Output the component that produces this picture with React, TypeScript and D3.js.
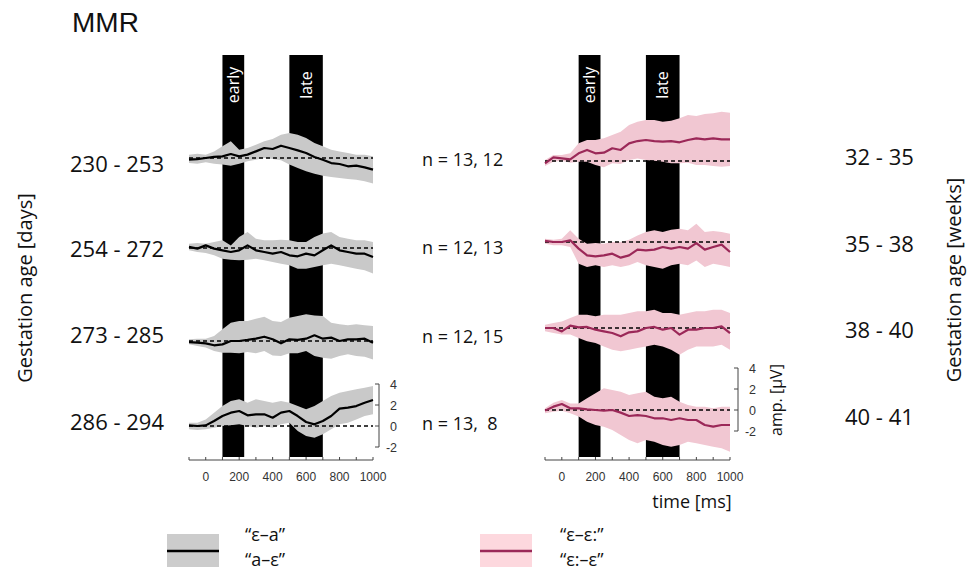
import * as d3 from "d3";

const W = 968;
const H = 575;

// sample grid of the ERP curves (ms)
const times = [-100, -50, 0, 50, 100, 150, 200, 250, 300, 350, 400, 450, 500, 550, 600, 650, 700, 750, 800, 850, 900, 950, 1000];

const daysLabels = ["230 - 253", "254 - 272", "273 - 285", "286 - 294"];
const weeksLabels = ["32 - 35", "35 - 38", "38 - 40", "40 - 41"];
const nLabels = ["n = 13, 12", "n = 12, 13", "n = 12, 15", "n = 13,  8"];
const xTickLabels = [0, 200, 400, 600, 800, 1000];
const xMinorTicks = [-100, 0, 100, 200, 300, 400, 500, 600, 700, 800, 900, 1000];
const ampTicks = [4, 2, 0, -2];
const windows = [
  { label: "early", from: 100, to: 230 },
  { label: "late", from: 500, to: 700 },
];

// "ε-a" / "a-ε" (grey), µV
const greyMean = [
  [-0.16, -0.1, 0, 0.1, 0.16, 0.38, 0.16, 0.32, 0.63, 0.95, 0.86, 1.17, 0.95, 0.73, 0.48, 0.1, -0.16, -0.48, -0.57, -0.79, -0.73, -0.89, -1.11],
  [0.1, -0.06, 0.25, -0.06, -0.22, -0.38, -0.22, 0.25, -0.22, -0.38, -0.54, -0.38, -0.7, -0.79, -0.54, -0.7, -0.22, 0.25, -0.22, -0.38, -0.54, -0.54, -0.86],
  [-0.1, -0.16, -0.22, -0.41, -0.32, 0, 0, 0.1, 0.22, 0.41, 0.16, -0.22, 0.16, 0.1, 0.22, 0.54, 0.22, 0.32, 0, 0.16, 0.16, 0.22, -0.16],
  [0.06, 0, 0.06, 0.48, 0.95, 1.27, 1.43, 1.02, 1.11, 1.11, 0.79, 1.27, 1.43, 0.95, 0.38, 0.16, 0.48, 0.95, 1.65, 1.75, 1.9, 2.22, 2.48],
];
const greyHi = [
  [0.32, 0.41, 0.32, 0.63, 1.11, 1.59, 0.79, 0.95, 1.27, 1.59, 1.81, 2.22, 2.38, 2.22, 1.9, 1.43, 1.11, 0.79, 0.63, 0.48, 0.32, 0.32, 0.16],
  [0.41, 0.48, 0.41, 0.57, 0.73, 0.25, 1.05, 1.52, 0.89, 0.73, 0.73, 0.79, 0.73, 0.57, 0.57, 1.05, 1.37, 1.52, 1.05, 0.89, 0.73, 0.73, 0.57],
  [0.16, 0.22, 0.22, 0.48, 1.11, 1.75, 1.9, 1.9, 2.13, 2.32, 1.9, 1.81, 2.22, 2.38, 2.54, 2.44, 2.38, 1.75, 1.59, 1.49, 1.59, 1.49, 1.43],
  [0.32, 0.32, 0.63, 1.27, 1.9, 2.38, 2.54, 2.22, 2.54, 2.38, 2.22, 2.38, 2.22, 1.9, 1.59, 1.9, 2.38, 2.86, 3.17, 3.33, 3.49, 3.65, 3.81],
];
const greyLo = [
  [-0.48, -0.54, -0.41, -0.54, -0.63, -0.73, -0.54, -0.32, -0.16, 0, -0.1, -0.22, -0.63, -0.95, -1.27, -1.49, -1.68, -1.81, -1.9, -2.0, -2.06, -2.22, -2.44],
  [-0.22, -0.38, -0.48, -0.7, -1.02, -1.11, -1.17, -1.11, -1.02, -1.17, -1.33, -1.49, -1.65, -1.97, -1.97, -1.81, -1.65, -1.49, -1.65, -1.81, -1.97, -2.13, -2.44],
  [-0.32, -0.48, -0.63, -0.95, -1.11, -1.11, -1.17, -1.05, -1.17, -0.95, -1.37, -1.43, -1.17, -1.17, -0.95, -1.43, -1.59, -1.68, -1.43, -1.27, -1.43, -1.49, -1.75],
  [-0.32, -0.38, -0.32, -0.16, 0, 0.06, 0.16, 0, -0.16, 0, -0.16, 0.16, 0.32, -0.48, -0.95, -1.11, -0.79, -0.32, 0.16, 0.32, 0.63, 0.95, 1.11],
];

// "ε-ε:" / "ε:-ε" (pink), µV
const pinkMean = [
  [-0.22, 0.35, 0.25, 0.16, 0.73, 1.05, 0.73, 0.79, 1.21, 1.05, 1.68, 1.9, 2.0, 1.9, 1.84, 1.9, 1.78, 2.0, 2.16, 2.06, 2.16, 2.06, 2.06],
  [0.1, 0, 0, 0.16, -0.63, -1.27, -1.37, -1.27, -1.11, -1.49, -1.27, -0.73, -0.79, -0.73, -0.48, -0.63, -0.48, -0.63, -0.1, -0.73, -0.48, -0.25, -0.95],
  [0, 0, -0.32, 0.22, 0.06, 0.1, -0.16, -0.32, -0.48, -0.79, -0.41, -0.32, 0, 0.1, -0.16, 0, -0.63, -0.16, -0.16, 0, 0, 0.16, -0.48],
  [-0.06, 0.32, 0.57, 0.16, 0.16, 0.06, 0, -0.06, 0, -0.25, -0.57, -0.48, -0.57, -0.79, -0.79, -0.95, -0.79, -0.95, -0.95, -1.43, -1.59, -1.43, -1.43],
];
const pinkHi = [
  [0.1, 0.57, 0.57, 0.73, 1.68, 2.0, 2.0, 2.16, 2.48, 2.79, 3.43, 3.75, 3.9, 3.9, 3.75, 3.84, 4.06, 4.38, 4.29, 4.48, 4.54, 4.7, 4.6],
  [0.32, 0.22, 0.32, 1.11, 0.32, -0.16, -0.1, -0.16, 0, 0, 0.22, 0.63, 0.95, 1.11, 0.95, 1.17, 1.27, 1.11, 1.75, 0.95, 1.05, 0.95, 0.79],
  [0.32, 0.48, 0.63, 0.95, 1.27, 1.27, 1.11, 1.27, 1.27, 1.27, 1.43, 1.59, 1.59, 1.75, 1.43, 1.43, 1.27, 1.43, 1.59, 1.59, 1.75, 1.75, 1.43],
  [0.16, 0.7, 0.95, 0.63, 0.63, 1.11, 1.59, 2.06, 1.9, 1.75, 1.43, 1.59, 1.75, 1.27, 1.11, 1.27, 0.79, 0.48, 0.32, 0.32, 0.16, 0.32, 0.32],
];
const pinkLo = [
  [-0.48, -0.06, 0.03, -0.16, -0.06, -0.06, -0.38, -0.6, -0.22, -0.29, 0.1, 0.25, 0.1, 0.03, -0.06, -0.22, -0.22, -0.16, -0.38, -0.38, -0.48, -0.54, -0.48],
  [-0.16, -0.32, -0.32, -0.48, -2.06, -2.38, -2.22, -2.38, -2.22, -2.38, -2.22, -1.9, -2.22, -2.38, -2.54, -2.22, -2.06, -2.22, -1.75, -2.38, -2.06, -2.22, -2.38],
  [-0.32, -0.48, -0.63, -0.63, -0.95, -1.27, -1.43, -1.75, -2.06, -2.22, -2.06, -1.9, -1.75, -1.59, -1.75, -2.06, -2.54, -2.06, -1.75, -1.75, -1.75, -1.59, -2.06],
  [-0.32, -0.16, -0.06, -0.32, -0.63, -1.11, -1.43, -1.59, -1.9, -2.38, -2.86, -3.17, -2.86, -3.02, -3.33, -3.49, -3.33, -3.02, -3.17, -3.33, -3.49, -3.65, -3.97],
];

const sansLabel = "'Open Sans', 'Noto Sans', sans-serif";
const sansTick = "'Liberation Sans', Arial, sans-serif";

const GREY_BAND = "#c9c9c9";
const PINK_BAND = "#f1c7d2";
const PINK_LINE = "#9b2858";

type PanelProps = {
  x0: number;
  x1: number;
  baselines: number[];
  mean: number[][];
  lo: number[][];
  hi: number[][];
  band: string;
  line: string;
  bracketX: number;
};

function Panel({ x0, x1, baselines, mean, lo, hi, band, line, bracketX }: PanelProps) {
  const x = d3.scaleLinear().domain([-100, 1000]).range([x0, x1]);
  const barTop = 55;
  const barBottom = 457;
  const axisY = 460;
  const last = baselines[baselines.length - 1];
  const yLast = d3.scaleLinear().domain([-2, 4]).range([last + 21, last - 42]);

  return (
    <g>
      {windows.map((w) => (
        <g key={w.label}>
          <rect x={x(w.from)} y={barTop} width={x(w.to) - x(w.from)} height={barBottom - barTop} fill="#000" />
          <text
            transform={`translate(${(x(w.from) + x(w.to)) / 2 + 5.5},85) rotate(-90)`}
            textAnchor="middle"
            fill="#fff"
            fontFamily={sansLabel}
            fontSize={16}
          >
            {w.label}
          </text>
        </g>
      ))}

      {baselines.map((b, r) => {
        const y = d3.scaleLinear().domain([-2, 4]).range([b + 21, b - 42]);
        const area = d3
          .area<number>()
          .x((_, i) => x(times[i]))
          .y0((_, i) => y(lo[r][i]))
          .y1((d) => y(d));
        const ln = d3
          .line<number>()
          .x((_, i) => x(times[i]))
          .y((d) => y(d));
        return (
          <g key={r}>
            <path d={area(hi[r]) || ""} fill={band} />
            <line x1={x(-100)} x2={x(1000)} y1={y(0)} y2={y(0)} stroke="#000" strokeWidth={1.3} strokeDasharray="4 3" />
            <path d={ln(mean[r]) || ""} fill="none" stroke={line} strokeWidth={2.2} strokeLinejoin="round" />
          </g>
        );
      })}

      {/* time axis */}
      <line x1={x(-100)} x2={x(1000)} y1={axisY} y2={axisY} stroke="#444" strokeWidth={1} />
      {xMinorTicks.map((t) => (
        <line key={t} x1={x(t)} x2={x(t)} y1={axisY} y2={axisY - 3} stroke="#444" strokeWidth={1} />
      ))}
      {xTickLabels.map((t) => (
        <text key={t} x={x(t)} y={481} textAnchor="middle" fontFamily={sansTick} fontSize={12} fill="#333">
          {t}
        </text>
      ))}

      {/* amplitude bracket */}
      <line x1={bracketX} x2={bracketX} y1={yLast(4)} y2={yLast(-2)} stroke="#444" strokeWidth={1} />
      {ampTicks.map((v) => (
        <g key={v}>
          <line x1={bracketX - 4} x2={bracketX} y1={yLast(v)} y2={yLast(v)} stroke="#444" strokeWidth={1} />
          <text x={bracketX + 18} y={yLast(v) + 4.5} textAnchor="end" fontFamily={sansTick} fontSize={12.5} fill="#333">
            {v}
          </text>
        </g>
      ))}
    </g>
  );
}

export default function App() {
  const leftBase = [158, 248, 341, 426];
  const rightBase = [161, 242, 328, 410];
  const daysY = [172, 257, 343, 430];
  const weeksY = [165, 252, 338, 425];
  const nY = [166, 254, 343, 430];

  return (
    <svg width={W} height={H} style={{ position: "absolute", left: 0, top: 0, background: "#fff" }}>
      <text x={72} y={32} fontFamily={sansTick} fontSize={28} fill="#111">
        MMR
      </text>

      <text transform="translate(32,288) rotate(-90)" textAnchor="middle" fontFamily={sansLabel} fontSize={20} fill="#111">
        Gestation age [days]
      </text>
      <text transform="translate(961,280) rotate(-90)" textAnchor="middle" fontFamily={sansLabel} fontSize={20} fill="#111">
        Gestation age [weeks]
      </text>

      {daysLabels.map((s, i) => (
        <text key={s} x={70} y={daysY[i]} fontFamily={sansLabel} fontSize={22} fill="#111">
          {s}
        </text>
      ))}
      {weeksLabels.map((s, i) => (
        <text key={s} x={845} y={weeksY[i]} fontFamily={sansLabel} fontSize={22} fill="#111">
          {s}
        </text>
      ))}
      {nLabels.map((s, i) => (
        <text key={i} x={422} y={nY[i]} fontFamily={sansLabel} fontSize={18} fill="#111" style={{ whiteSpace: "pre" }}>
          {s}
        </text>
      ))}

      <Panel x0={189} x1={373} baselines={leftBase} mean={greyMean} lo={greyLo} hi={greyHi} band={GREY_BAND} line="#000" bracketX={379} />
      <Panel x0={545} x1={730} baselines={rightBase} mean={pinkMean} lo={pinkLo} hi={pinkHi} band={PINK_BAND} line={PINK_LINE} bracketX={738} />

      <text transform="translate(782,400) rotate(-90)" textAnchor="middle" fontFamily={sansLabel} fontSize={16} fill="#111">
        amp. [μV]
      </text>
      <text x={692} y={508} textAnchor="middle" fontFamily={sansLabel} fontSize={18} fill="#111">
        time [ms]
      </text>

      {/* legend */}
      <rect x={167} y={534} width={52} height={33} fill="#cccccc" />
      <line x1={167} x2={219} y1={551} y2={551} stroke="#000" strokeWidth={2.5} />
      <text x={245} y={541} fontFamily={sansLabel} fontSize={18} fill="#111">“ε–a”</text>
      <text x={245} y={566} fontFamily={sansLabel} fontSize={18} fill="#111">“a–ε”</text>

      <rect x={480} y={534} width={52} height={33} fill="#fdd8de" />
      <line x1={480} x2={532} y1={551} y2={551} stroke={PINK_LINE} strokeWidth={2.5} />
      <text x={560} y={541} fontFamily={sansLabel} fontSize={18} fill="#111">“ε–ε:”</text>
      <text x={560} y={566} fontFamily={sansLabel} fontSize={18} fill="#111">“ε:–ε”</text>
    </svg>
  );
}
